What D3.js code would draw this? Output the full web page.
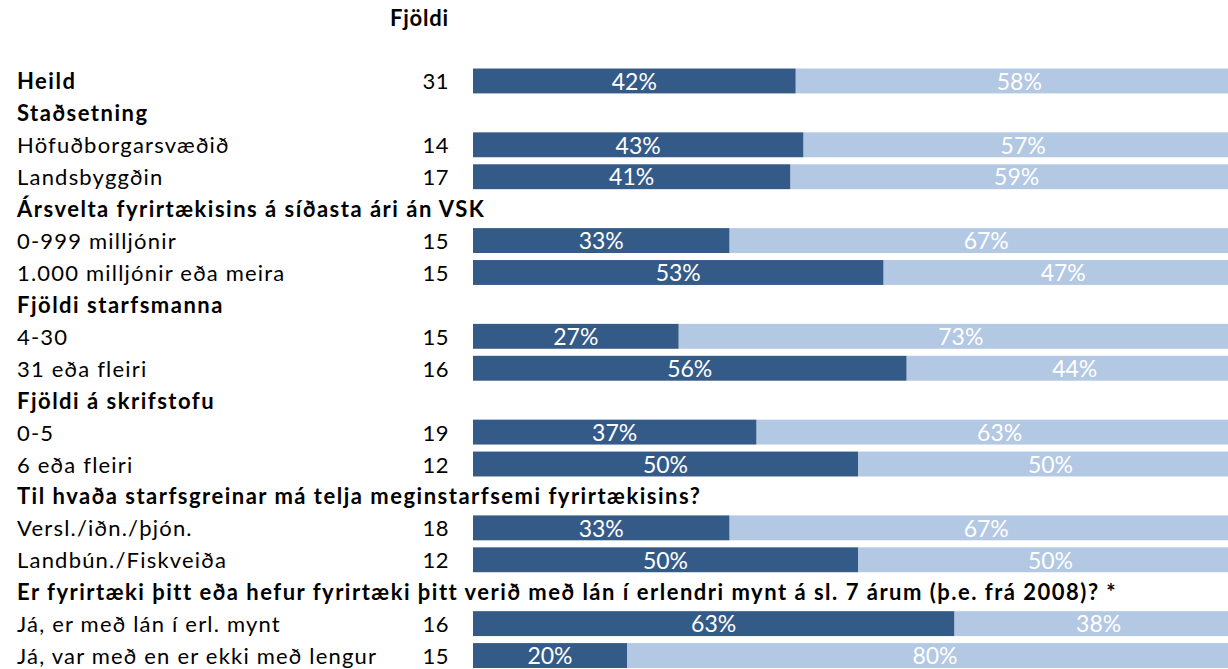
<!DOCTYPE html>
<html>
<head>
<meta charset="utf-8">
<script src="https://cdn.jsdelivr.net/npm/d3@7"></script>
<style>
  body { margin: 0; background: #fff; }
  svg { display: block; }
  text { font-family: Lato, "Open Sans", sans-serif; }
</style>
</head>
<body>
<div id="chart"></div>
<script>
// rows of the table, top to bottom
const rowLabels = [
  'Heild',
  'Staðsetning',
  'Höfuðborgarsvæðið',
  'Landsbyggðin',
  'Ársvelta fyrirtækisins á síðasta ári án VSK',
  '0-999 milljónir',
  '1.000 milljónir eða meira',
  'Fjöldi starfsmanna',
  '4-30',
  '31 eða fleiri',
  'Fjöldi á skrifstofu',
  '0-5',
  '6 eða fleiri',
  'Til hvaða starfsgreinar má telja meginstarfsemi fyrirtækisins?',
  'Versl./iðn./þjón.',
  'Landbún./Fiskveiða',
  'Er fyrirtæki þitt eða hefur fyrirtæki þitt verið með lán í erlendri mynt á sl. 7 árum (þ.e. frá 2008)? *',
  'Já, er með lán í erl. mynt',
  'Já, var með en er ekki með lengur',
];
const boldRows = [true, true, false, false, true, false, false, true, false, false,
  true, false, false, true, false, false, true, false, false];
const counts = [31, null, 14, 17, null, 15, 15, null, 15, 16, null, 19, 12, null, 18, 12, null, 16, 15];
const darkShare = [41.9, null, 42.9, 41.2, null, 33.3, 53.3, null, 26.7, 56.3, null, 36.8, 50, null, 33.3, 50, null, 62.5, 20];
const lightShare = [58.1, null, 57.1, 58.8, null, 66.7, 46.7, null, 73.3, 43.7, null, 63.2, 50, null, 66.7, 50, null, 37.5, 80];
const countTitle = 'Fjöldi';

const width = 1228;
const height = 669;

const rows = rowLabels.map((label, i) => ({
  i,
  label,
  bold: boldRows[i],
  count: counts[i],
  dark: darkShare[i],
  light: lightShare[i],
}));

const svg = d3.select('#chart').append('svg')
  .attr('width', width)
  .attr('height', height);

// the bars run past the right edge, as in the source image
const x = d3.scaleLinear().domain([0, 100]).range([473, 1243]);
const y = d3.scaleBand()
  .domain(rows.map(d => d.i))
  .range([65, 671.5])
  .paddingInner(0.22)
  .paddingOuter(0.11);

const labelSize = 22;
const pctSize = 23;

svg.append('text')
  .attr('x', 449)
  .attr('y', 26)
  .attr('text-anchor', 'end')
  .attr('font-weight', 'bold')
  .attr('font-size', labelSize)
  .attr('letter-spacing', 0.8)
  .attr('fill', '#000')
  .text(countTitle);

const row = svg.append('g')
  .selectAll('g.row')
  .data(rows)
  .join('g')
  .attr('class', 'row')
  .attr('transform', d => `translate(0, ${y(d.i)})`);

const bh = y.bandwidth();

row.append('text')
  .attr('x', 17)
  .attr('y', bh / 2 + 8.5)
  .attr('font-size', labelSize)
  .attr('font-weight', d => (d.bold ? 'bold' : 'normal'))
  .attr('letter-spacing', d => (d.bold ? 1.5 : 1.2))
  .attr('fill', '#000')
  .text(d => d.label);

const withBars = row.filter(d => d.dark != null);

withBars.append('text')
  .attr('x', 449)
  .attr('y', bh / 2 + 8.5)
  .attr('text-anchor', 'end')
  .attr('font-size', labelSize)
  .attr('letter-spacing', 0.5)
  .attr('fill', '#000')
  .text(d => d.count);

withBars.append('rect')
  .attr('class', 'light')
  .attr('x', d => x(d.dark))
  .attr('width', d => x(d.dark + d.light) - x(d.dark))
  .attr('height', bh)
  .attr('fill', '#b3c8e3');

withBars.append('rect')
  .attr('class', 'dark')
  .attr('x', x(0))
  .attr('width', d => x(d.dark) - x(0))
  .attr('height', bh)
  .attr('fill', '#345a87');

withBars.append('text')
  .attr('x', d => (x(0) + x(d.dark)) / 2)
  .attr('y', bh / 2)
  .attr('dy', '0.38em')
  .attr('text-anchor', 'middle')
  .attr('font-size', pctSize)
  .attr('fill', '#fff')
  .text(d => `${Math.round(d.dark)}%`);

withBars.append('text')
  .attr('x', d => (x(d.dark) + x(d.dark + d.light)) / 2)
  .attr('y', bh / 2)
  .attr('dy', '0.38em')
  .attr('text-anchor', 'middle')
  .attr('font-size', pctSize)
  .attr('fill', '#fff')
  .text(d => `${Math.round(d.light)}%`);
</script>
</body>
</html>
